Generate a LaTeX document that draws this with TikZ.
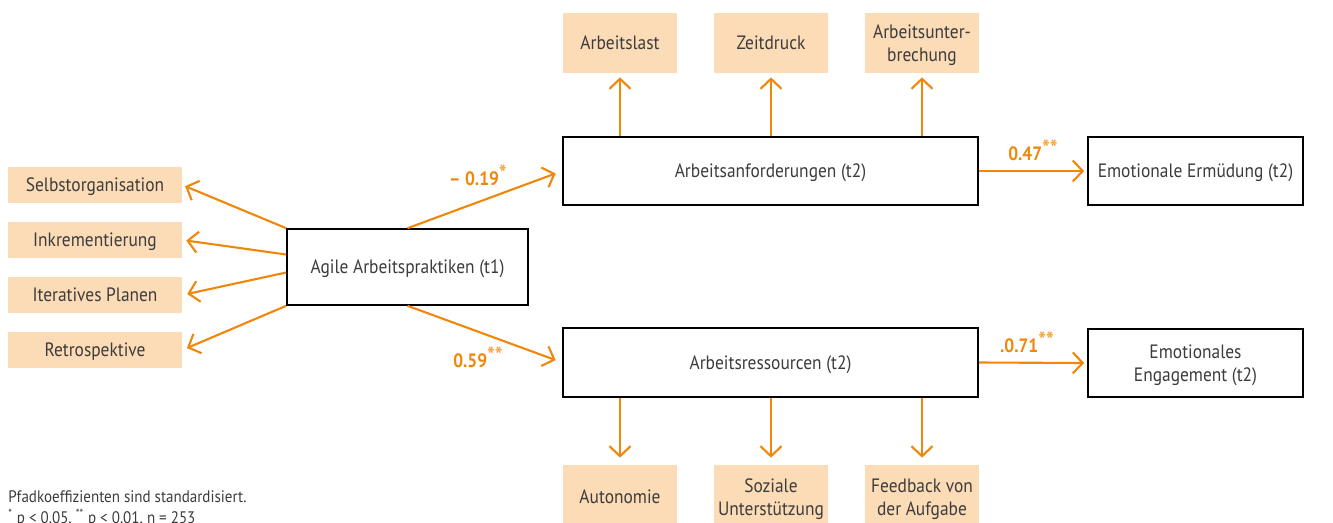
\documentclass[tikz,border=0pt]{standalone}
\usepackage{fontspec}
\setmainfont{PT Sans}[FakeStretch=0.9]
\usetikzlibrary{arrows.meta}

\definecolor{agileorange}{RGB}{240,135,10}
\definecolor{agilepeach}{RGB}{252,219,183}
\definecolor{agiletext}{RGB}{60,60,60}

% Sternchen fuer Signifikanz
\newcommand{\signif}[1]{{\color{agileorange!75}\raisebox{0.22em}{\fontsize{13}{13}\selectfont #1}}}

\tikzset{
    konstrukt/.style={draw=black, line width=0.9pt, fill=white, inner sep=0pt,
        text depth=0pt, text=agiletext, align=center, font=\fontsize{11}{13}\selectfont},
    indikator/.style={fill=agilepeach, inner sep=0pt, text=agiletext, text depth=0pt,
        align=center, font=\fontsize{11}{13}\selectfont},
    pfeil/.style={draw=agileorange, line width=1.2pt,
        -{Straight Barb[length=2mm,width=4.2mm,line width=1.2pt]}},
    koeff/.style={text=agileorange, font=\fontsize{11}{13}\selectfont\bfseries},
}

\begin{document}
\begin{tikzpicture}[x=0.02cm, y=-0.02cm]
    \useasboundingbox (0,0) rectangle (1333,522);
    % latente Variablen
    \node[konstrukt, minimum width=241*0.02cm, minimum height=76*0.02cm] (agile) at (407.5,267) {Agile Arbeitspraktiken (t1)};
    \node[konstrukt, minimum width=415*0.02cm, minimum height=68*0.02cm] (anf) at (770.5,171) {Arbeitsanforderungen (t2)};
    \node[konstrukt, minimum width=415*0.02cm, minimum height=69*0.02cm] (ress) at (770.5,362.5) {Arbeitsressourcen (t2)};
    \node[konstrukt, minimum width=215*0.02cm, minimum height=68*0.02cm] (erm) at (1195.5,171) {Emotionale Ermüdung (t2)};
    \node[konstrukt, minimum width=215*0.02cm, minimum height=68*0.02cm] (eng) at (1195.5,363) {Emotionales\\Engagement (t2)};
    % Indikatoren links
    \node[indikator, minimum width=174*0.02cm, minimum height=36*0.02cm] (selbst) at (95,185) {Selbstorganisation};
    \node[indikator, minimum width=174*0.02cm, minimum height=36*0.02cm] (inkr) at (95,240) {Inkrementierung};
    \node[indikator, minimum width=174*0.02cm, minimum height=36*0.02cm] (iter) at (95,295) {Iteratives Planen};
    \node[indikator, minimum width=174*0.02cm, minimum height=36*0.02cm] (retro) at (95,350) {Retrospektive};
    % Indikatoren oben
    \node[indikator, minimum width=114*0.02cm, minimum height=60*0.02cm] (last) at (620,43) {Arbeitslast};
    \node[indikator, minimum width=114*0.02cm, minimum height=60*0.02cm] (zeit) at (771,43) {Zeitdruck};
    \node[indikator, minimum width=114*0.02cm, minimum height=60*0.02cm] (unterbr) at (922,43) {Arbeitsunter-\\brechung};
    % Indikatoren unten
    \node[indikator, minimum width=114*0.02cm, minimum height=64*0.02cm] (auto) at (620,497) {Autonomie};
    \node[indikator, minimum width=114*0.02cm, minimum height=64*0.02cm] (sozial) at (771,497) {Soziale\\Unterstützung};
    \node[indikator, minimum width=114*0.02cm, minimum height=64*0.02cm] (feedb) at (922,497) {Feedback von\\der Aufgabe};

    \draw[pfeil, shorten >=3*0.02cm] (agile.north west) -- (selbst.east);
    \draw[pfeil, shorten >=4*0.02cm] ([yshift=12.5*0.02cm]agile.west) -- (inkr.east);
    \draw[pfeil, shorten >=5*0.02cm] ([yshift=-5.5*0.02cm]agile.west) -- (iter.east);
    \draw[pfeil, shorten >=5*0.02cm] (agile.south west) -- (retro.east);

    \draw[pfeil, shorten >=7*0.02cm] (agile.north) -- (anf.west);
    \draw[pfeil, shorten >=7*0.02cm] (agile.south) -- (ress.west);
    \draw[pfeil, shorten >=3*0.02cm] (anf.east) -- (erm.west);
    \draw[pfeil, shorten >=3*0.02cm] (ress.east) -- (eng.west);

    \foreach \ind in {last, zeit, unterbr}
        \draw[pfeil, shorten >=4*0.02cm] (\ind.south |- anf.north) -- (\ind.south);
    \foreach \ind in {auto, sozial, feedb}
        \draw[pfeil, shorten >=7*0.02cm] (\ind.north |- ress.south) -- (\ind.north);

    % Pfadkoeffizienten
    \node[koeff] (k1) at (478,175) {– 0.19\signif{*}};
    \node[koeff] (k2) at (478,357) {0.59\signif{**}};
    \node[koeff] (k3) at (1033,150) {0.47\signif{**}};
    \node[koeff] (k4) at (1027,342) {.0.71\signif{**}};

    \node[anchor=west, text=agiletext, align=left, inner sep=0pt,
        font=\fontsize{9.5}{12}\selectfont] (fuss) at (8,509)
        {Pfadkoeffizienten sind standardisiert.\\\textsuperscript{*} p < 0.05, \textsuperscript{**} p < 0.01, n = 253};
\end{tikzpicture}
\end{document}
